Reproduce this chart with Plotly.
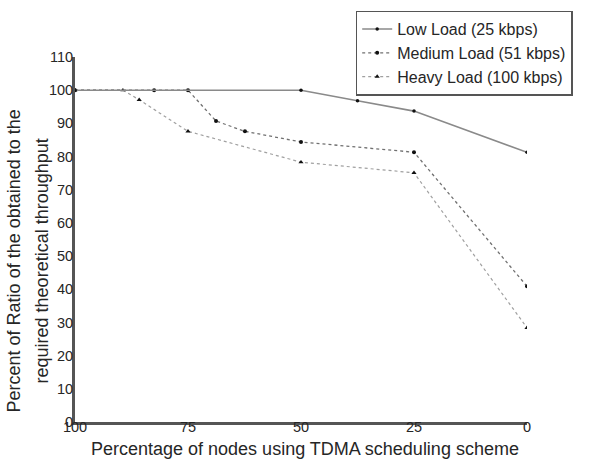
import plotly.graph_objects as go

# Share of nodes on the TDMA schedule (%), per load level
low_x = [100, 50, 37.5, 25, 0]
low_y = [100, 100, 96.8, 93.7, 81.3]

medium_x = [100, 82.5, 75, 68.8, 62.4, 50, 25, 0]
medium_y = [100, 100, 100, 90.7, 87.6, 84.4, 81.3, 40.9]

heavy_x = [100, 89.4, 85.8, 75, 50, 25, 0]
heavy_y = [100, 100, 97.1, 87.6, 78.3, 75.1, 28.4]

x_ticks = [100, 75, 50, 25, 0]
y_ticks = list(range(0, 111, 10))

x_title = "Percentage of nodes using TDMA scheduling scheme"
y_title_lines = ["Percent of Ratio of the obtained to the",
                 "required theoretical throughput"]

FONT = "Liberation Sans, Arial, sans-serif"
TEXT = "#262626"

fig = go.Figure()

# Heavy first, low last so the solid line sits on top of the shared 100% segment
fig.add_trace(go.Scatter(
    x=heavy_x, y=heavy_y, mode="lines+markers", name="Heavy Load (100 kbps)",
    line=dict(color="#a0a0a0", width=1.2, dash="dot"),
    marker=dict(symbol="triangle-up", size=4.5, color="#111111"),
))
fig.add_trace(go.Scatter(
    x=medium_x, y=medium_y, mode="lines+markers", name="Medium Load (51 kbps)",
    line=dict(color="#707070", width=1.3, dash="3px,3px"),
    marker=dict(symbol="circle", size=4, color="#111111"),
))
fig.add_trace(go.Scatter(
    x=low_x, y=low_y, mode="lines+markers", name="Low Load (25 kbps)",
    line=dict(color="#8a8a8a", width=1.6),
    marker=dict(symbol="circle", size=3.5, color="#111111"),
))

# Axis titles as free text so their placement is fixed in pixels
annotations = [
    dict(text=x_title, xref="paper", yref="paper", x=0.509, y=-0.074,
         xanchor="center", yanchor="middle", showarrow=False,
         font=dict(family=FONT, size=18, color=TEXT)),
]
for i, line in enumerate(y_title_lines):
    annotations.append(dict(
        text=line, xref="paper", yref="paper",
        x=(14 + 28 * i - 75) / 452, y=(422 - 261) / 366,
        xanchor="center", yanchor="middle", textangle=-90, showarrow=False,
        font=dict(family=FONT, size=18, color=TEXT)))

fig.update_layout(
    width=593, height=461,
    margin=dict(l=75, r=66, t=56, b=39),
    paper_bgcolor="white", plot_bgcolor="white",
    font=dict(family=FONT, color=TEXT, size=14),
    showlegend=True,
    legend=dict(
        x=0.621, y=1.124, xanchor="left", yanchor="top",
        traceorder="reversed",
        bordercolor="#555555", borderwidth=1.5, bgcolor="white",
        font=dict(family=FONT, size=16, color=TEXT),
        tracegroupgap=0, itemwidth=30,
    ),
    xaxis=dict(
        range=[100, 0], tickvals=x_ticks, ticktext=[str(v) for v in x_ticks],
        showgrid=False, zeroline=False, showline=True, automargin=False,
        linecolor="#555555", linewidth=3, ticks="", ticklabelstandoff=-10,
        tickfont=dict(family=FONT, size=14.5, color=TEXT),
    ),
    yaxis=dict(
        range=[0, 110], tickvals=y_ticks, ticktext=[str(v) for v in y_ticks],
        showgrid=False, zeroline=False, showline=True, automargin=False,
        linecolor="#555555", linewidth=3, ticks="", ticklabelstandoff=-4,
        tickfont=dict(family=FONT, size=14.5, color=TEXT),
    ),
    annotations=annotations,
)

fig.write_html("out.html")
